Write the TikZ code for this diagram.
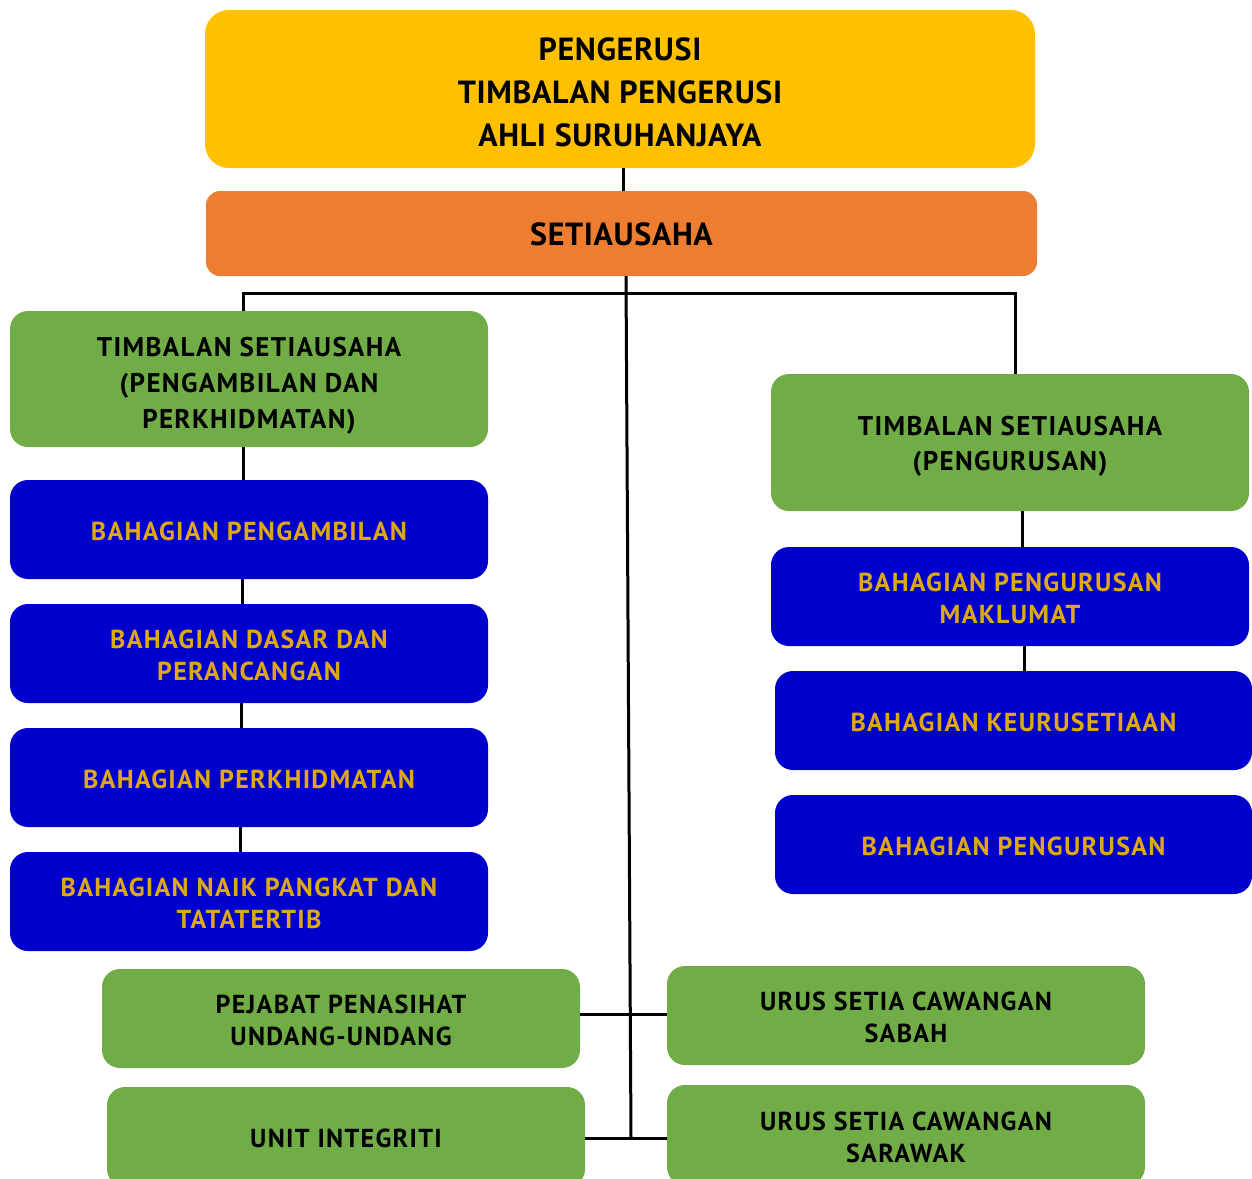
\documentclass[tikz,border=0pt]{standalone}
\usepackage{fontspec}
\setmainfont{PT Sans}
\newfontfamily\widefont[LetterSpace=5]{PT Sans}
\newfontfamily\midfont[LetterSpace=2]{PT Sans}
\definecolor{cyellow}{RGB}{255,192,0}
\definecolor{corange}{RGB}{237,125,49}
\definecolor{cgreen}{RGB}{112,173,71}
\definecolor{cblue}{RGB}{0,0,204}
\definecolor{cgold}{RGB}{222,168,20}
\tikzset{
  box/.style={rounded corners=18pt, draw=none, inner sep=0pt},
  greenbox/.style={box, fill=cgreen, minimum width=478pt},
  bluebox/.style={box, fill=cblue, minimum width=478pt, minimum height=99pt},
  txt/.style={align=center, inner sep=0pt},
  toptxt/.style={txt, text=black, font=\midfont\bfseries\fontsize{32}{43}\selectfont},
  sectxt/.style={txt, text=black, font=\midfont\bfseries\fontsize{32}{36}\selectfont},
  tstxt/.style={txt, text=black, font=\widefont\bfseries\fontsize{27}{36}\selectfont},
  gtxt/.style={txt, text=black, font=\widefont\bfseries\fontsize{26}{32}\selectfont},
  btxt/.style={txt, text=cgold, font=\widefont\bfseries\fontsize{26}{32}\selectfont},
  conn/.style={line width=3pt, black},
}
\begin{document}
\begin{tikzpicture}[x=1pt,y=-1pt]
\useasboundingbox (0,0) rectangle (1252,1178);
\clip (0,0) rectangle (1252,1178);
% boxes
\node[box, fill=cyellow, minimum width=830pt, minimum height=158pt, rounded corners=24pt] (top) at (620,89) {};
\node[box, fill=corange, minimum width=831pt, minimum height=85pt, rounded corners=14pt] (sec) at (621.5,233.5) {};
\node[greenbox, minimum height=136pt] (tsl) at (249,379) {};
\node[bluebox] (b1) at (249,529.5) {};
\node[bluebox] (b2) at (249,653.5) {};
\node[bluebox] (b3) at (249,777.5) {};
\node[bluebox] (b4) at (249,901.5) {};
\node[greenbox, minimum height=137pt] (tsr) at (1010,442.5) {};
\node[bluebox] (r1) at (1010,596.5) {};
\node[bluebox, minimum width=477pt] (r2) at (1013.5,720.5) {};
\node[bluebox, minimum width=477pt] (r3) at (1013.5,844.5) {};
\node[greenbox, minimum height=99pt] (pej) at (341,1018.5) {};
\node[greenbox, minimum height=99pt] (sab) at (906,1015.5) {};
\node[greenbox, minimum height=100pt] (uni) at (346,1137) {};
\node[greenbox, minimum height=100pt] (sar) at (906,1135) {};
% texts
\node[toptxt] (top-t) at ([yshift=-3pt]top.center) {PENGERUSI\\TIMBALAN PENGERUSI\\AHLI SURUHANJAYA};
\node[sectxt] (sec-t) at ([yshift=-0.5pt]sec.center) {SETIAUSAHA};
\node[tstxt] (tsl-t) at ([yshift=-7pt]tsl.center) {TIMBALAN SETIAUSAHA\\(PENGAMBILAN DAN\\PERKHIDMATAN)};
\node[btxt] (b1-t) at ([yshift=-2pt]b1.center) {BAHAGIAN PENGAMBILAN};
\node[btxt] (b2-t) at ([yshift=-2pt]b2.center) {BAHAGIAN DASAR DAN\\PERANCANGAN};
\node[btxt] (b3-t) at ([yshift=-2pt]b3.center) {BAHAGIAN PERKHIDMATAN};
\node[btxt] (b4-t) at ([yshift=-2pt]b4.center) {BAHAGIAN NAIK PANGKAT DAN\\TATATERTIB};
\node[tstxt, font=\widefont\bfseries\fontsize{27}{35}\selectfont] (tsr-t) at ([yshift=-4pt]tsr.center) {TIMBALAN SETIAUSAHA\\(PENGURUSAN)};
\node[btxt] (r1-t) at ([yshift=-2pt]r1.center) {BAHAGIAN PENGURUSAN\\MAKLUMAT};
\node[btxt] (r2-t) at ([yshift=-2pt]r2.center) {BAHAGIAN KEURUSETIAAN};
\node[btxt] (r3-t) at ([yshift=-2pt]r3.center) {BAHAGIAN PENGURUSAN};
\node[gtxt] (pej-t) at ([yshift=-2pt]pej.center) {PEJABAT PENASIHAT\\UNDANG-UNDANG};
\node[gtxt] (sab-t) at ([yshift=-2pt]sab.center) {URUS SETIA CAWANGAN\\SABAH};
\node[gtxt] (uni-t) at ([yshift=-1pt]uni.center) {UNIT INTEGRITI};
\node[gtxt] (sar-t) at ([yshift=-2pt]sar.center) {URUS SETIA CAWANGAN\\SARAWAK};
% connectors
\coordinate (bl) at (243,293);
\coordinate (br) at (1015,293);
\coordinate (trunk) at (631,1138);
\draw[conn] (top.south -| 623,0) -- (sec.north -| 623,0);
\draw[conn] (tsl.north -| bl) -- (bl) -- (br) -- (tsr.north -| br);
\draw[conn] (sec.south -| 626,0) -- (trunk);
\draw[conn] (tsl.south -| 243,0) -- (b1.north -| 243,0);
\draw[conn] (b1.south -| 242,0) -- (b2.north -| 242,0);
\draw[conn] (b2.south -| 241,0) -- (b3.north -| 241,0);
\draw[conn] (b3.south -| 240,0) -- (b4.north -| 240,0);
\draw[conn] (tsr.south -| 1022,0) -- (r1.north -| 1022,0);
\draw[conn] (r1.south -| 1024,0) -- (r2.north -| 1024,0);
\draw[conn] (pej.east |- 0,1014) -- (sab.west |- 0,1014);
\draw[conn] (uni.east |- trunk) -- (sar.west |- trunk);
\end{tikzpicture}
\end{document}
